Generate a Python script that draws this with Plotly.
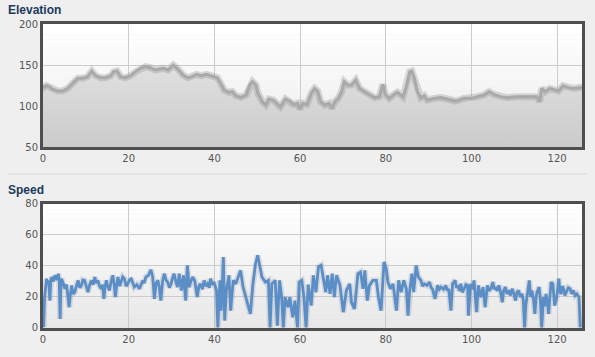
import plotly.graph_objects as go

# ---------------- data ----------------
elev_km = [0, 0.3, 0.8, 1.5, 2.3, 3.5, 4.6, 5.8, 6.9, 8.1, 9.2, 10.4, 11.4, 12.3, 13.5, 14.6, 15.8, 16.5,
           17.3, 18.1, 19.2, 20.4, 21.6, 22.7, 23.9, 25.0, 26.2, 27.3, 28.1, 29.2, 30.4, 31.5, 32.7, 33.8,
           34.8, 35.8, 36.9, 38.1, 39.2, 40.3, 40.7, 41.5, 42.3, 43.4, 44.2, 45.0, 46.2, 47.4, 48.2, 48.9,
           49.7, 50.2, 51.2, 52.0, 52.7, 53.7, 54.7, 55.4, 56.6, 57.6, 58.5, 59.4, 59.9, 60.7, 61.6, 62.6,
           63.4, 64.1, 64.8, 65.8, 66.8, 67.4, 68.1, 68.9, 69.7, 70.3, 71.2, 72.0, 73.0, 73.9, 75.1, 76.2,
           77.4, 78.5, 79.3, 79.9, 80.8, 81.9, 82.7, 84.0, 84.8, 85.6, 86.1, 86.7, 87.4, 88.2, 89.0, 89.7,
           91.3, 92.8, 94.4, 96.3, 98.3, 100.0, 101.4, 102.9, 104.1, 105.2, 106.8, 108.3, 110.6, 112.9,
           115.3, 115.9, 116.4, 117.2, 118.3, 119.5, 120.3, 121.4, 122.6, 123.8, 125.3, 125.8]
elevation = [125, 123, 125, 123.6, 120.3, 118.3, 118.3, 121.5, 127.6, 133.7, 133.7, 135.8, 142.7, 137,
             134.5, 134.5, 137, 141.9, 142.7, 135.8, 134.5, 137, 141.9, 145.9, 148, 146.7, 143.9, 145.1,
             145.9, 143.9, 150, 145.1, 137.8, 134.5, 135.8, 138.6, 137, 138.6, 137, 135.8, 134.5, 127.6,
             119.5, 116.7, 117.5, 112.6, 110.6, 113.4, 125.6, 129.7, 125.6, 115.4, 105.3, 101.2, 108.5,
             107.3, 102.4, 99.2, 108.5, 106.1, 102, 103.3, 96.3, 103.3, 102, 115.4, 121.5, 118.3, 105.3,
             101.2, 103.3, 97.2, 105.3, 109.3, 117.5, 129.7, 125.6, 125.6, 131.7, 121.5, 117.5, 114.2,
             110.2, 111.4, 126.4, 114.2, 109.3, 114.2, 116.7, 111.4, 123.6, 141.9, 142.7, 133.7, 117.5,
             110.2, 112.6, 107.3, 109.3, 110.2, 108.5, 106, 109.3, 109.3, 111.4, 113.4, 117.5, 114.2,
             111.4, 110.2, 111.4, 111.4, 111.4, 105.3, 121.5, 117.5, 121.5, 119.5, 118.3, 124.8, 122.4,
             121.5, 122.8, 122.5]

speed_km = [
    0.0, 0.15, 0.35, 0.6, 0.85, 1.0, 1.2, 1.4, 1.6, 1.8, 2.0, 2.4, 2.8, 3.2, 3.6, 3.8, 4.0, 4.15, 4.3,
    4.7, 5.1, 5.5, 5.9, 6.1, 6.4, 6.7, 7.0, 7.4, 7.8, 8.2, 8.6, 9.0, 9.3, 9.7, 10.1, 10.5, 10.9, 11.3, 11.7,
    12.1, 12.4, 12.8, 13.2, 13.6, 13.9, 14.2, 14.5, 14.8, 15.1, 15.5, 15.9, 16.3, 16.6, 16.9, 17.2, 17.5, 17.9, 18.3, 18.6,
    19.0, 19.4, 19.8, 20.2, 20.6, 20.9, 21.3, 21.9, 22.5, 22.9, 23.3, 23.6, 24.0, 24.6, 25.2, 25.6, 26.0, 26.4, 26.8, 27.1,
    27.5, 27.9, 28.3, 28.7, 29.1, 29.5, 29.9, 30.2, 30.6, 31.0, 31.4, 31.8, 32.3, 32.8, 33.3, 33.7, 34.1, 34.5, 34.9, 35.4,
    36.0, 36.4, 36.8, 37.2, 37.6, 38.0, 38.4, 38.8, 39.1, 39.5, 39.9, 40.5, 40.8, 41.3, 41.6, 42.1, 42.4, 42.8, 43.4, 43.8,
    44.4, 45.0, 45.5, 46.1, 46.7, 47.2, 47.8, 48.4, 49.0, 49.6, 50.1, 50.6, 51.1, 51.9, 52.6, 53.0, 53.4, 54.2, 54.7, 55.2,
    55.7, 56.1, 56.5, 57.2, 57.6, 58.3, 58.8, 59.4, 59.8, 60.4, 60.9, 61.4, 61.9, 62.6, 63.1, 63.7, 64.3, 64.9, 65.4, 66.0,
    66.4, 67.0, 67.5, 68.0, 68.5, 69.3, 70.1, 70.8, 71.6, 72.0, 72.7, 73.5, 74.1, 74.7, 75.1, 75.7, 76.2, 77.0, 77.8, 78.3,
    78.9, 79.6, 80.1, 80.5, 81.1, 81.7, 82.5, 83.0, 83.6, 84.2, 84.8, 85.2, 85.5, 86.1, 86.5, 87.1, 87.6, 88.2, 88.6, 89.0,
    89.6, 90.2, 90.6, 90.9, 91.5, 92.1, 92.5, 92.9, 93.5, 94.0, 94.4, 94.7, 95.2, 95.6, 96.2, 96.5, 96.8, 97.2, 97.5, 97.9,
    98.3, 98.7, 99.1, 99.3, 99.8, 100.2, 100.6, 100.9, 101.2, 101.6, 102.2, 102.7, 103.2, 103.7, 104.1, 104.5, 105.0, 105.3, 105.6, 106.0,
    106.4, 106.8, 107.2, 107.5, 107.9, 108.3, 108.7, 109.1, 109.5, 109.9, 110.3, 110.6, 111.0, 111.4, 111.8, 112.1, 112.4, 112.7, 113.0, 113.5,
    113.8, 114.1, 114.5, 114.8, 115.1, 115.3, 115.8, 116.1, 116.4, 116.8, 117.1, 117.4, 117.7, 118.0, 118.3, 118.6, 119.0, 119.4, 119.9, 120.4,
    120.6, 120.9, 121.2, 121.5, 121.8, 122.2, 122.6, 123.0, 123.4, 123.8, 124.2, 124.6, 125.1, 125.4,
]
speed = [
    18, 0.5, 19, 26, 31.8, 29, 30.7, 28, 17.7, 30, 32.9, 30, 34, 31, 35, 30, 5.8, 25, 31.8,
    29, 25.3, 28, 19.9, 13.4, 22, 27.5, 22, 23.1, 27, 30.7, 26, 27.5, 31, 30.7, 27, 23.1, 28, 30.7, 28,
    32.9, 29, 30.7, 27, 25.3, 28, 18.8, 27, 30.7, 27, 24.2, 30, 34, 28, 19.9, 28, 32.9, 27, 30.7, 33,
    31.8, 27, 28.5, 31, 31.8, 29, 26.4, 28, 25.3, 28, 30.7, 29, 32.9, 34, 37.6, 32.9, 18.8, 29, 30.7, 27,
    17.7, 30, 35, 31, 29.6, 26, 28.5, 32, 35, 30, 26.4, 35, 24.2, 34, 17.7, 40.4, 26.4, 30, 32.9, 30.7,
    19.9, 27, 28.5, 25, 30.7, 27, 28.5, 26, 31.8, 28, 29.6, 24.2, 0.4, 30.7, 11.2, 45.8, 4.8, 24.2, 34, 11.2,
    30.7, 28.5, 32.9, 37.2, 26.4, 21, 15.6, 9.1, 28.5, 41.5, 46.9, 39.4, 32.9, 29.6, 30.7, 0.4, 28.5, 30.7, 1.5, 30.7,
    19.9, 0.4, 19.9, 13.4, 19.9, 6.9, 17.7, 0.4, 29.6, 30.7, 19.9, 0.4, 28, 14.5, 34, 23.1, 39.4, 40.4, 32.9, 23.1,
    34, 22, 35, 19.9, 34, 27.5, 10.2, 24.2, 28.5, 16.6, 12.3, 35, 36.1, 25.3, 37.2, 17.7, 27.5, 30.7, 30.7, 19.9,
    11.2, 42.6, 38.3, 29.6, 25.3, 28.5, 11.2, 30.7, 23.1, 30.7, 25.3, 8, 22, 35, 23.1, 40.4, 32.9, 30.7, 27, 28.5,
    27.5, 29.6, 26, 25.3, 18.8, 27.5, 25, 26.4, 25, 27.5, 24, 25.3, 11.2, 28.5, 30.7, 26, 27.5, 24, 28.5, 23,
    25.3, 28, 27.5, 8, 28.5, 25, 30.7, 22, 10.2, 27.5, 19.9, 26.4, 13.4, 27.5, 24, 25.3, 29.6, 25, 26.4, 24,
    27.5, 23, 16.6, 24, 26.4, 22, 24.2, 21, 25.3, 22, 17.7, 23, 24.2, 20, 22, 18, 0.4, 15, 22, 30.7,
    20, 24.2, 18, 9.1, 20, 23.1, 26.4, 18, 0.4, 19.9, 14, 22, 17, 9.1, 20, 29.6, 28.5, 14.5, 19.9, 31.8,
    24, 22, 27, 25.3, 21, 23.1, 26, 25.3, 22, 24.2, 21, 22, 19.9, 0.4,
]
assert len(speed_km) == len(speed)
assert len(elev_km) == len(elevation)

x_ticks = [0, 20, 40, 60, 80, 100, 120]
elev_ticks = [50, 100, 150, 200]
speed_ticks = [0, 20, 40, 60, 80]

# ---------------- figure ----------------
fig = go.Figure()

fig.add_trace(go.Scatter(x=elev_km, y=elevation, mode="lines", xaxis="x", yaxis="y",
                         line=dict(color="rgba(120,120,120,0)", width=0),
                         fill="tozeroy",
                         fillgradient=dict(type="vertical", start=50, stop=150,
                                           colorscale=[[0, "#cbcbcb"], [1, "#e0e0e0"]]),
                         hoverinfo="skip", showlegend=False))
fig.add_trace(go.Scatter(x=elev_km, y=elevation, mode="lines", xaxis="x", yaxis="y",
                         line=dict(color="rgba(140,140,140,0.30)", width=7),
                         hoverinfo="skip", showlegend=False))
fig.add_trace(go.Scatter(x=elev_km, y=elevation, mode="lines", xaxis="x", yaxis="y",
                         line=dict(color="#a9a9a9", width=3), showlegend=False))

fig.add_trace(go.Scatter(x=speed_km, y=speed, mode="lines", xaxis="x2", yaxis="y2",
                         line=dict(color="rgba(90,110,140,0.18)", width=6),
                         hoverinfo="skip", showlegend=False))
fig.add_trace(go.Scatter(x=speed_km, y=speed, mode="lines", xaxis="x2", yaxis="y2",
                         line=dict(color="#5b8ec6", width=2.8), showlegend=False))

# gradient plot backgrounds
shapes = []
n = 24
for ref, top_c, bot_c in [("y", (255, 255, 255), (236, 236, 236)),
                          ("y2", (255, 255, 255), (232, 232, 232))]:
    xr = "x domain" if ref == "y" else "x2 domain"
    for i in range(n):
        t = i / (n - 1)
        c = tuple(int(round(bot_c[k] + (top_c[k] - bot_c[k]) * t)) for k in range(3))
        shapes.append(dict(type="rect", xref=xr, yref=ref + " domain",
                           x0=0, x1=1, y0=i / n, y1=(i + 1) / n,
                           fillcolor="rgb(%d,%d,%d)" % c, line=dict(width=0), layer="below"))
# separator line
shapes.append(dict(type="line", xref="paper", yref="paper", x0=-0.066, x1=1.009,
                   y0=0.5066, y1=0.5066, line=dict(color="#d9d9d9", width=1)))

axis_common = dict(showline=True, mirror=True, linecolor="#4f4f4f", linewidth=3,
                   showgrid=True, gridcolor="#cccccc", gridwidth=1, zeroline=False,
                   ticks="", tickfont=dict(family="DejaVu Sans", size=10, color="#555555"))

fig.update_layout(
    width=595, height=357,
    margin=dict(l=43, r=10, t=24, b=29),
    paper_bgcolor="#efefef", plot_bgcolor="rgba(0,0,0,0)",
    shapes=shapes,
    xaxis=dict(domain=[0, 1], anchor="y", range=[0, 125.8], tickvals=x_ticks, **axis_common),
    yaxis=dict(domain=[0.5954, 1], anchor="x", range=[50, 200], tickvals=elev_ticks, **axis_common),
    xaxis2=dict(domain=[0, 1], anchor="y2", range=[0, 125.8], tickvals=x_ticks, **axis_common),
    yaxis2=dict(domain=[0, 0.4079], anchor="x2", range=[0, 80], tickvals=speed_ticks, **axis_common),
    annotations=[
        dict(text="<b>Elevation</b>", xref="paper", yref="paper", x=-0.068, y=1.046,
             xanchor="left", yanchor="middle", showarrow=False,
             font=dict(family="Liberation Sans", size=12, color="#1b3a5e")),
        dict(text="<b>Speed</b>", xref="paper", yref="paper", x=-0.068, y=0.454,
             xanchor="left", yanchor="middle", showarrow=False,
             font=dict(family="Liberation Sans", size=12, color="#1b3a5e")),
    ],
)

fig.write_html("out.html", config={"displayModeBar": False},
               post_script="document.body.style.margin='0';document.body.style.background='#efefef';")
